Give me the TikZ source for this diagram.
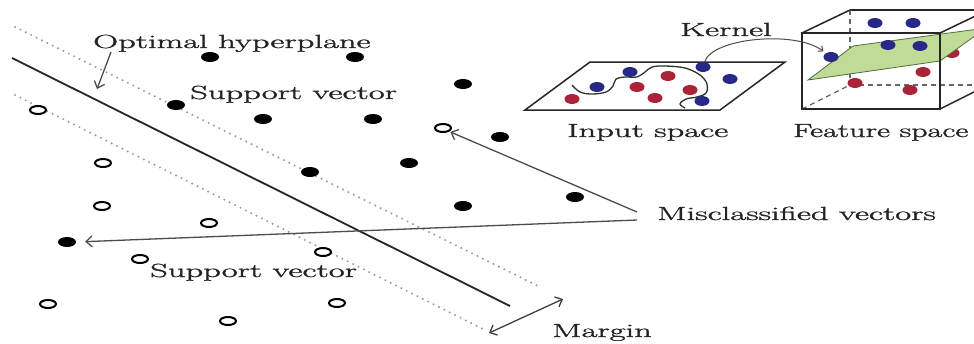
\documentclass[tikz,border=0pt]{standalone}
\usepackage{graphicx}
\usepackage{fontspec}
\newfontfamily\lblfont[FakeBold=1.2]{Latin Modern Roman}
\usetikzlibrary{arrows.meta,shapes.geometric}
\definecolor{navy}{RGB}{40,40,135}
\definecolor{crimson}{RGB}{170,35,55}
\definecolor{planefill}{RGB}{192,218,152}
\definecolor{planeedge}{RGB}{80,110,60}
\definecolor{txt}{RGB}{35,35,35}
\definecolor{curvec}{RGB}{40,55,40}
\begin{document}
\begin{tikzpicture}[x=1pt,y=-1pt,
 lbl/.style={inner sep=0pt,anchor=base west,text=txt,font=\lblfont\fontsize{19}{22}\selectfont},
 fdot/.style={ellipse,fill=black,minimum width=18pt,minimum height=10pt,inner sep=0pt},
 odot/.style={ellipse,draw=black,line width=2pt,fill=white,minimum width=16pt,minimum height=8pt,inner sep=0pt},
 bdot/.style={ellipse,fill=navy,minimum width=15pt,minimum height=10pt,inner sep=0pt},
 rdot/.style={ellipse,fill=crimson,minimum width=15pt,minimum height=10pt,inner sep=0pt},
 dotline/.style={draw=gray!80,line width=2.2pt,line cap=round,dash pattern=on 0pt off 6pt},
 arr/.style={draw=black!70,line width=1.3pt,-{Straight Barb[length=6pt,width=11pt]}},
 darr/.style={draw=black!75,line width=1.3pt,{Straight Barb[length=6pt,width=11pt]}-{Straight Barb[length=6pt,width=11pt]}},
 edge/.style={draw=black!85,line width=1.5pt},
 hid/.style={draw=black!60,line width=1.3pt,dash pattern=on 5pt off 4pt},
]
\clip (0,0) rectangle (974,343);
\fill[white] (0,0) rectangle (974,343);

% ---- hyperplane and margins
\coordinate (h1) at (12,58);   \coordinate (h2) at (510,306);
\coordinate (u1) at (15,27);   \coordinate (u2) at (540,287);
\coordinate (l1) at (15,95);   \coordinate (l2) at (485,330);
\draw[dotline] (u1) -- (u2);
\draw[dotline] (l1) -- (l2);
\draw[line width=1.8pt,black!85] (h1) -- (h2);

% ---- filled dots (class +)
\node[fdot] (f1) at (210,57) {};
\node[fdot] (f2) at (355,57) {};
\node[fdot] (f3) at (463,84) {};
\node[fdot] (f4) at (176,105) {};
\node[fdot] (f5) at (263,119) {};
\node[fdot] (f6) at (373,119) {};
\node[fdot] (f7) at (500,137) {};
\node[fdot] (f8) at (409,163) {};
\node[fdot] (f9) at (310,172) {};
\node[fdot] (f10) at (463,206) {};
\node[fdot] (f11) at (575,197) {};
\node[fdot] (fm) at (67,242) {};

% ---- open circles (class -)
\node[odot] (o1) at (38,110) {};
\node[odot] (om) at (443,128) {};
\node[odot] (o3) at (103,163) {};
\node[odot] (o4) at (102,206) {};
\node[odot] (o5) at (209,223) {};
\node[odot] (o6) at (140,259) {};
\node[odot] (o7) at (323,252) {};
\node[odot] (o8) at (48,304) {};
\node[odot] (o9) at (337,303) {};
\node[odot] (o10) at (228,321) {};

% ---- labels
\node[lbl] (opt) at (93,48) {\scalebox{1.82}[1]{Optimal hyperplane}};
\node[lbl] (sv1) at (190,99) {\scalebox{1.82}[1]{Support vector}};
\node[lbl] (sv2) at (150,277) {\scalebox{1.82}[1]{Support vector}};
\node[lbl] (mis) at (657,220) {\scalebox{1.82}[1]{Misclassified vectors}};
\node[lbl] (mar) at (552,337) {\scalebox{1.82}[1]{Margin}};
\node[lbl] (ker) at (680,36) {\scalebox{1.82}[1]{Kernel}};
\node[lbl] (ins) at (567,137) {\scalebox{1.82}[1]{Input space}};
\node[lbl] (fes) at (793,137) {\scalebox{1.69}[1]{Feature space}};

% ---- arrows
\coordinate (hp) at (97,89);
\draw[arr] ([xshift=18pt,yshift=-4pt]opt.base west) -- (hp);
\draw[arr,shorten >=1pt] ([xshift=-20pt,yshift=8pt]mis.base west) -- (om.south east);
\draw[arr,shorten >=9pt] ([xshift=-20pt,yshift=0pt]mis.base west) -- (fm.east);
\coordinate (m1) at (489,333); \coordinate (m2) at (563,299);
\draw[darr] (m1) -- (m2);

% ---- input space
\coordinate (p1) at (525,110); \coordinate (p2) at (720,110);
\coordinate (p3) at (785,62);  \coordinate (p4) at (590,62);
\draw[edge,line join=miter] (p1) -- (p2) -- (p3) -- (p4) -- cycle;
\draw[curvec,line width=1.3pt] plot[smooth,tension=0.6] coordinates {(572,85) (580,92) (592,94) (606,92) (613,86) (616,79) (625,77) (637,77) (645,72) (652,67) (665,66) (685,68) (700,75) (707,84) (706,93) (697,97) (686,99) (680,104) (685,108)};
\node[bdot] (ib1) at (630,72) {};
\node[bdot] (ib2) at (597,87) {};
\node[rdot] (ir1) at (572,99) {};
\node[rdot] (ir2) at (637,87) {};
\node[rdot] (ir3) at (668,76) {};
\node[rdot] (ir4) at (655,98) {};
\node[rdot] (ir5) at (690,90) {};
\node[bdot] (ib3) at (703,67) {};
\node[bdot] (ib4) at (730,79) {};
\node[bdot] (ib5) at (702,101) {};

% ---- feature space cube (back parts)
\coordinate (b1) at (850,10);  \coordinate (b2) at (988,10);
\coordinate (b3) at (988,85);  \coordinate (b4) at (850,85);
\coordinate (c1) at (802,33);  \coordinate (c2) at (940,33);
\coordinate (c3) at (940,109); \coordinate (c4) at (802,109);
\draw[edge] (b1) -- (b2);
\draw[hid] (b1) -- (b4);
\draw[hid] (b4) -- (b3);
\draw[hid] (c4) -- (b4);
\node[rdot] (fr1) at (952,53) {};
\fill[planefill,draw=planeedge,line width=0.8pt] (808,80) -- (940,61) -- (986,28) -- (853,46) -- cycle;
\node[bdot] (fb1) at (875,23) {};
\node[bdot] (fb2) at (913,23) {};
\node[bdot] (fb3) at (888,45) {};
\node[bdot] (fb4) at (920,46) {};
\node[bdot] (fb5) at (831,57) {};
\node[rdot] (fr2) at (923,72) {};
\node[rdot] (fr3) at (855,83) {};
\node[rdot] (fr4) at (910,90) {};
% front parts
\draw[edge,line join=miter] (c1) -- (c2) -- (c3) -- (c4) -- cycle;
\draw[edge] (c1) -- (b1);
\draw[edge] (c2) -- (b2);
\draw[edge] (c3) -- (b3);

% ---- kernel arrow
\draw[draw=black!70,line width=1pt,-{Straight Barb[length=4pt,width=7pt]},shorten >=3pt]
  (ib3) .. controls (712,38) and (795,30) .. (fb5);
\end{tikzpicture}
\end{document}
